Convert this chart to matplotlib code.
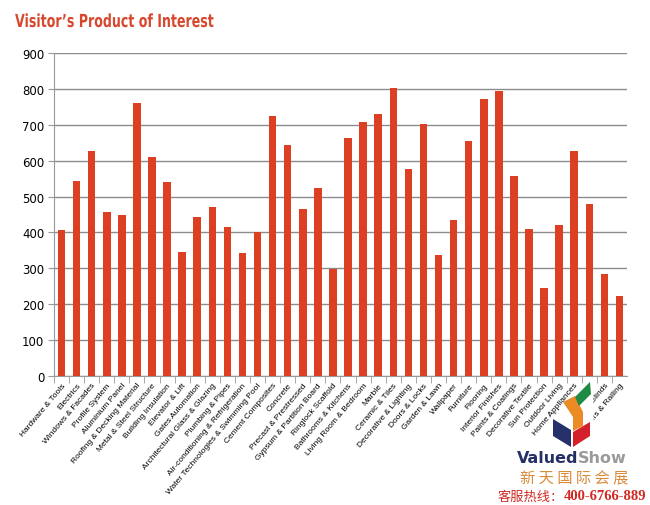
import matplotlib
matplotlib.use("Agg")
import matplotlib.pyplot as plt
from matplotlib.patches import Polygon, PathPatch
from matplotlib.textpath import TextPath
from matplotlib.font_manager import FontProperties
from matplotlib.transforms import Affine2D

categories = [
    "Hardware & Tools", "Electrics", "Windows & Facades", "Profile System",
    "Aluminium Panel", "Roofing & Decking Material", "Metal & Steel Structure",
    "Building Insulation", "Elevator & Lift", "Gates Automation",
    "Architectural Glass & Glazing", "Plumbing & Pipes",
    "Air-conditioning & Refrigeration", "Water Technologies & Swimming Pool",
    "Cement Composites", "Concrete", "Precast & Prestressed",
    "Gypsum & Partition Board", "Ringlock Scaffold", "Bathrooms & Kitchens",
    "Living Room & Bedroom", "Marble", "Ceramic & Tiles",
    "Decorative & Lighting", "Doors & Locks", "Garden & Lawn", "Wallpaper",
    "Furniture", "Flooring", "Interior Finishes", "Paints & Coatings",
    "Decorative Textile", "Sun Protection", "Outdoor Living",
    "Home Appliances", "Smart Home", "Curtains & Blinds", "Stairs & Railing",
]
visitors = [
    408, 544, 626, 456, 448, 760, 611, 540, 345, 442, 472, 415, 343, 400,
    725, 643, 464, 524, 297, 663, 709, 731, 802, 577, 701, 337, 435, 655,
    772, 793, 556, 410, 246, 421, 626, 478, 283, 224,
]
yticks = list(range(0, 1000, 100))

W, H = 650, 506
fig = plt.figure(figsize=(W / 100, H / 100), dpi=100)
ax = fig.add_axes([54 / W, 1 - 377 / H, (627 - 54) / W, (377 - 54) / H])

x = list(range(len(categories)))
ax.bar(x, visitors, width=0.5, color="#dc3f22", zorder=3)

ax.set_xlim(-0.5, len(categories) - 0.5)
ax.set_ylim(0, 900)
ax.set_yticks(yticks)
ax.yaxis.grid(True, color="#8c8c8c", linewidth=1.0, zorder=0)
ax.tick_params(axis="y", length=4, color="#999999", labelsize=8.5, pad=3)

ax.set_xticks(x)
ax.set_xticklabels(categories, rotation=50, ha="right", rotation_mode="anchor",
                   fontsize=6, family="Liberation Sans")
ax.set_xticks([i + 0.5 for i in x[:-1]] + [-0.5], minor=True)
ax.tick_params(axis="x", which="major", length=0, pad=4)
ax.tick_params(axis="x", which="minor", length=5, color="#999999")

for side in ["top", "right"]:
    ax.spines[side].set_visible(False)
for side in ["left", "bottom"]:
    ax.spines[side].set_color("#999999")

# title: condensed bold, squeezed horizontally
tp = TextPath((0, 0), "Visitor\u2019s Product of Interest", size=18,
              prop=FontProperties(family="DejaVu Sans", weight="bold"))
title = PathPatch(tp, color="#d8482e", lw=0,
                  transform=Affine2D().scale(0.7, 1.0).translate(15, H - 28))
fig.add_artist(title)

# logo
def px(pts):
    return [(a / W, 1 - b / H) for a, b in pts]

shapes = [
    ([(579, 388), (593, 380), (594, 440), (573, 450), (552, 438), (552, 421)], "white"),
    ([(553, 420), (571, 431), (571, 448), (553, 437)], "#26306b"),
    ([(573, 433), (590, 423), (590, 437), (573, 448)], "#d4202b"),
    ([(563, 403), (575, 397), (583, 413), (583, 427), (573, 432), (573, 418)], "#ec8a24"),
    ([(575, 398), (590, 383), (591, 395), (579, 407)], "#1f8a43"),
]
for pts, c in shapes:
    fig.add_artist(Polygon(px(pts), closed=True, color=c, lw=0, transform=fig.transFigure))

fig.text(578 / W, 1 - 459 / H, "Valued", color="#253166", fontsize=11.5, fontweight="bold",
         ha="right", va="center", family="DejaVu Sans")
fig.text(578 / W, 1 - 459 / H, "Show", color="#9a9a9a", fontsize=11.5, fontweight="bold",
         ha="left", va="center", family="DejaVu Sans")
fig.text(574 / W, 1 - 479 / H, "新 天 国 际 会 展", color="#d98a3a", fontsize=11,
         ha="center", va="center", family="Noto Sans CJK SC")
fig.text(564 / W, 1 - 497 / H, "客服热线：", color="#d02a22", fontsize=9.5,
         ha="right", va="center", family="Noto Sans CJK SC")
fig.text(564 / W, 1 - 497 / H, "400-6766-889", color="#d02a22", fontsize=10.5,
         fontweight="bold", ha="left", va="center", family="Liberation Serif")

fig.savefig("out.png", dpi=100)
